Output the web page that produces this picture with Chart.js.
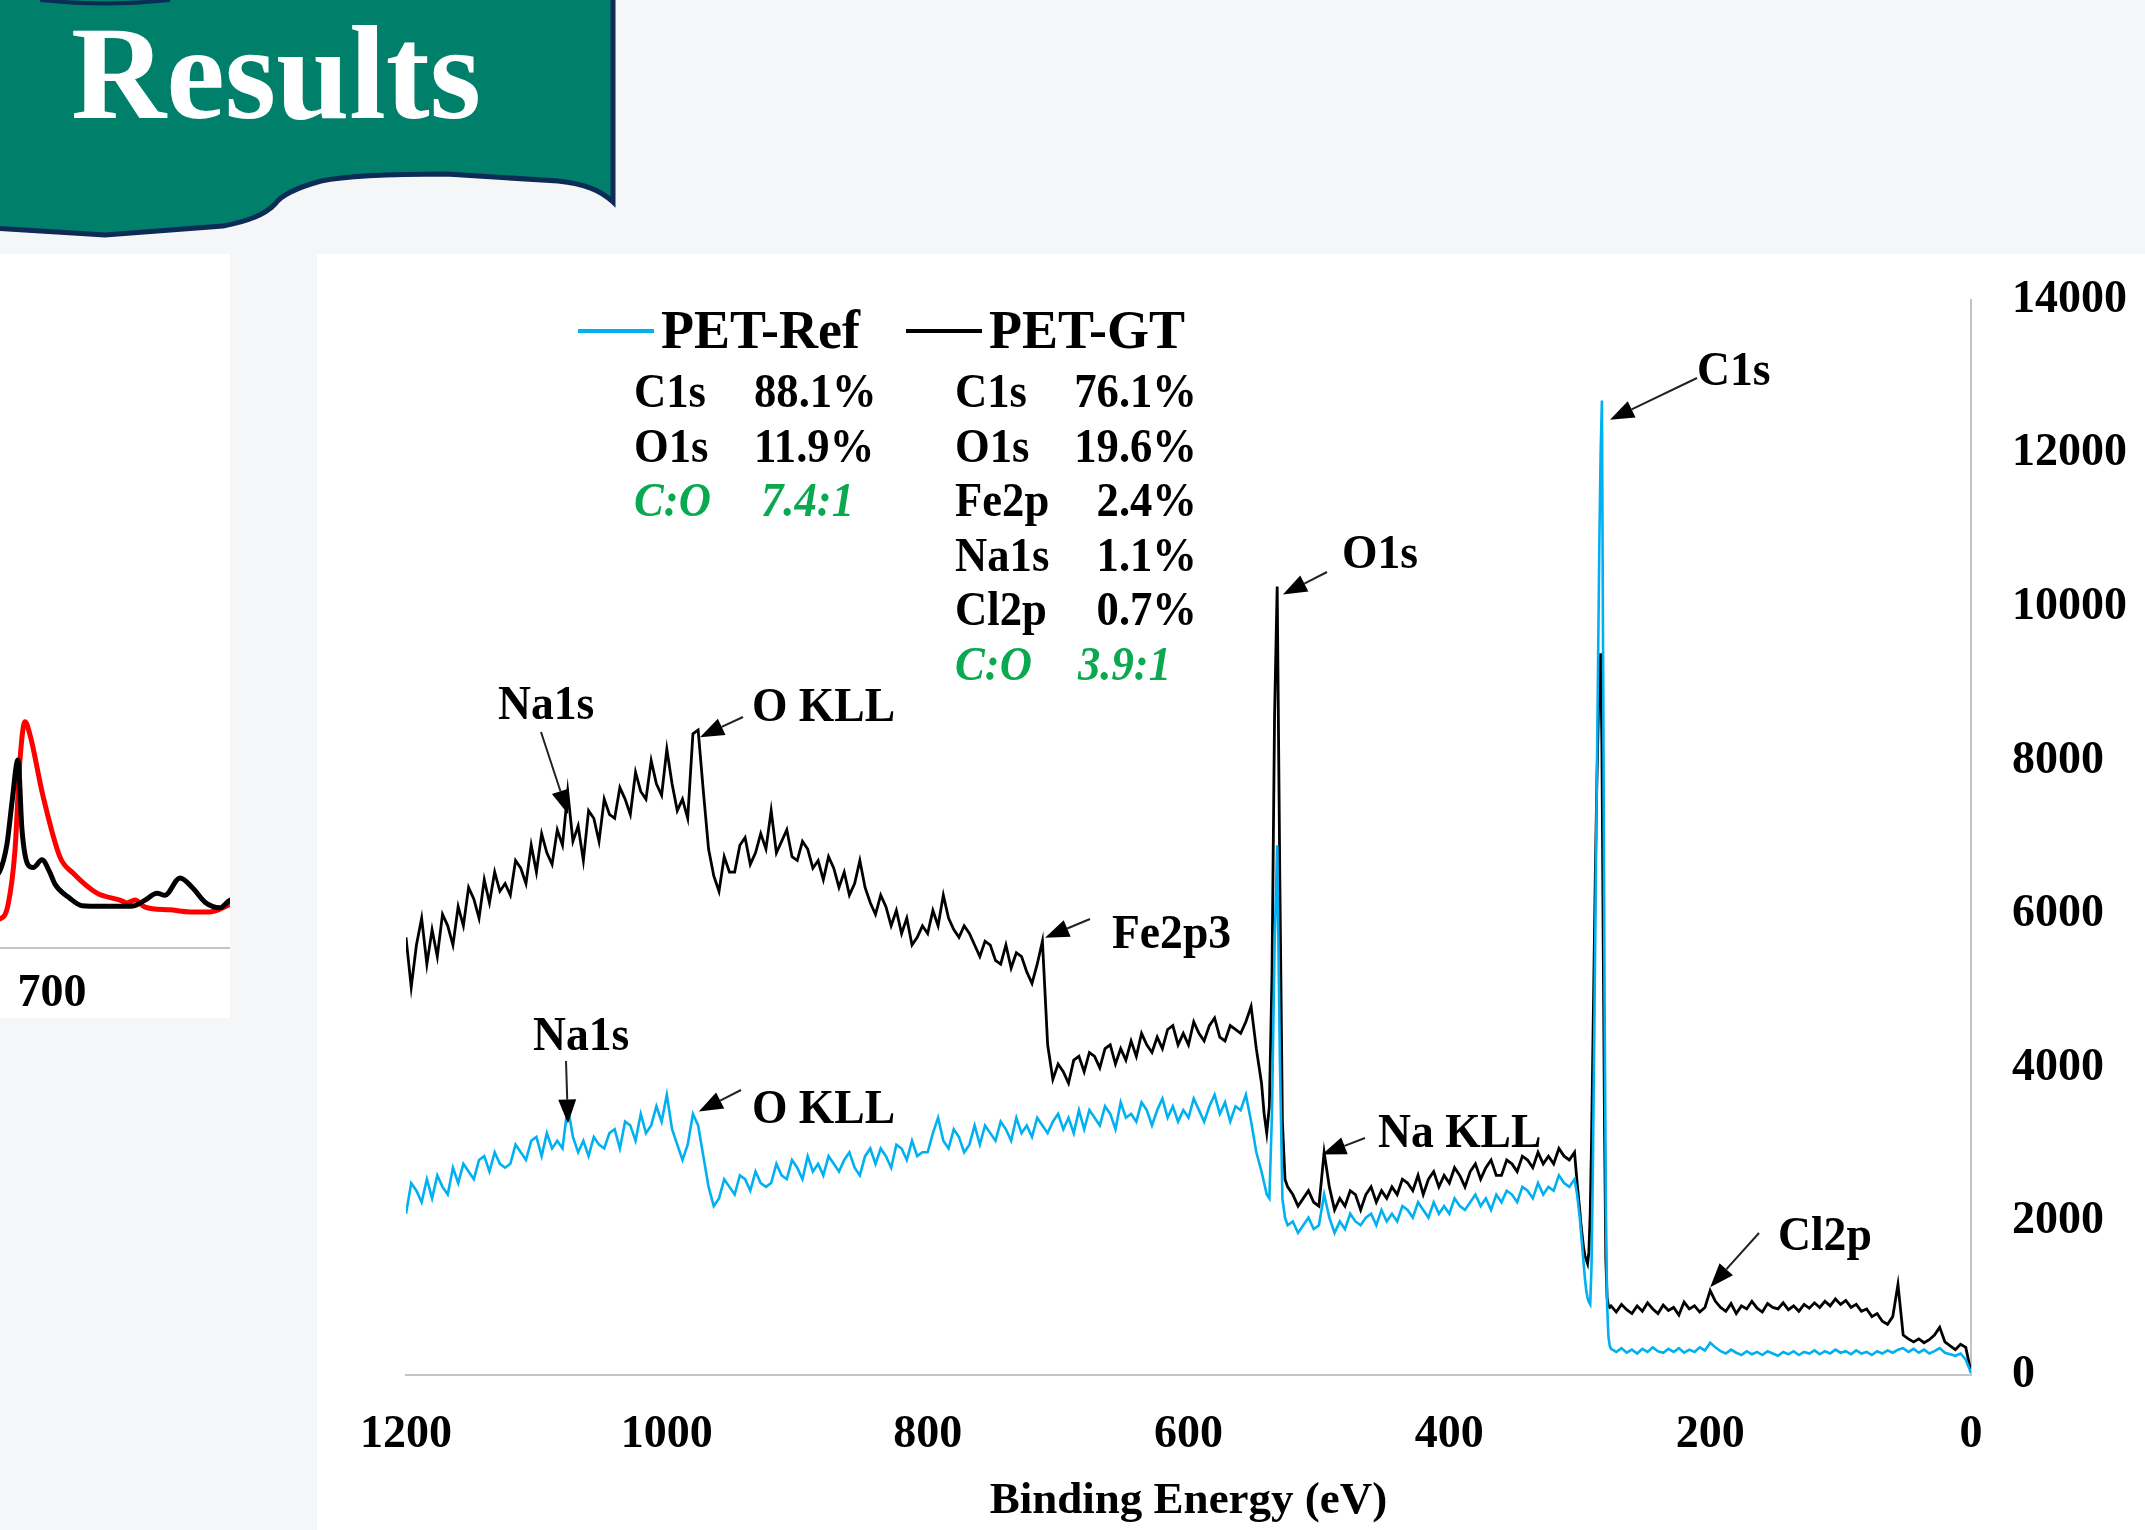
<!DOCTYPE html>
<html><head><meta charset="utf-8">
<script src="https://cdn.jsdelivr.net/npm/chart.js@4.4.0/dist/chart.umd.min.js"></script>
<style>
html,body{margin:0;padding:0;background:#f5f6f8;width:2145px;height:1530px;overflow:hidden;}
#banner{position:absolute;left:0;top:0;}
#leftPanel{position:absolute;left:0;top:254px;width:230px;height:764px;background:#fff;overflow:hidden;}
#leftWrap{position:absolute;left:-248px;top:0;width:600px;height:764px;}
#mainPanel{position:absolute;left:317px;top:254px;width:1828px;height:1276px;background:#fff;}
#mainWrap{position:absolute;left:0;top:0;width:1828px;height:1276px;}
</style></head>
<body>
<svg id="banner" width="640" height="250">
 <path d="M-10,-20 L613,-20 L613,202 C600,190 585,184 558,181 L446,174 C400,174 345,176 321,181 C292,189 280,197 275,204 C264,216 245,222 223,226 L105,235 L-10,228 Z" fill="#007f6a" stroke="#0d2b57" stroke-width="5"/>
 <path d="M40,0 Q105,7 170,0" stroke="#0d2b57" stroke-width="4" fill="none"/>
 <text x="71" y="118" font-family="Liberation Serif, Times New Roman, serif" font-weight="bold" font-size="133" fill="#ffffff" textLength="410" lengthAdjust="spacingAndGlyphs">Results</text>
</svg>
<div id="leftPanel"><div id="leftWrap"><canvas id="leftChart"></canvas></div></div>
<div id="mainPanel"><div id="mainWrap"><canvas id="mainChart"></canvas></div></div>
<script>
// ---------------- DATA ----------------
// Binding energy (eV) sampling points for survey spectra
const energy = [
1200,1196,1192,1188,1184,1180,1176,1172,1168,1164,
1160,1156,1152,1148,1144,1140,1136,1132,1128,1124,
1120,1116,1112,1108,1104,1100,1096,1092,1088,1084,
1080,1076,1072,1068,1064,1060,1056,1052,1048,1044,
1040,1036,1032,1028,1024,1020,1016,1012,1008,1004,
1000,996,992,988,984,980,976,972,968,964,
960,956,952,948,944,940,936,932,928,924,
920,916,912,908,904,900,896,892,888,884,
880,876,872,868,864,860,856,852,848,844,
840,836,832,828,824,820,816,812,808,804,
800,796,792,788,784,780,776,772,768,764,
760,756,752,748,744,740,736,732,728,724,
720,716,712,708,704,700,696,692,688,684,
680,676,672,668,664,660,656,652,648,644,
640,636,632,628,624,620,616,612,608,604,
600,596,592,588,584,580,576,572,568,564,
560,556,552,548,544,
542,540,538,536,534,532,530,528,526,524,
520,516,512,508,504,500,496,492,488,484,
480,476,472,468,464,460,456,452,448,444,
440,436,432,428,424,420,416,412,408,404,
400,396,392,388,384,380,376,372,368,364,
360,356,352,348,344,340,336,332,328,324,
320,316,312,308,304,
302,300,299,298,297,296,295,294,293,292,
291,290,289,288,287,286,285,284,283,282,
281,280,279,278,277,
276,272,268,264,260,256,252,248,244,240,
236,232,228,224,220,216,212,208,204,200,
196,192,188,184,180,176,172,168,164,160,
156,152,148,144,140,136,132,128,124,120,
116,112,108,104,100,96,92,88,84,80,
76,72,68,64,60,56,52,48,44,40,
36,32,28,24,20,16,12,8,4,0
];
// PET-Ref counts
const petRef = [
2100,2500,2400,2250,2550,2300,2600,2450,2350,2700,
2500,2750,2650,2550,2800,2850,2650,2900,2750,2700,
2750,3000,2900,2800,3050,3100,2850,3150,2950,3050,
2950,3500,3100,2900,3050,2850,3100,3000,2950,3150,
3200,2950,3300,3250,3050,3400,3150,3250,3500,3300,
3650,3200,3000,2800,3000,3400,3250,2850,2450,2200,
2300,2550,2450,2350,2600,2550,2400,2650,2500,2450,
2500,2750,2600,2550,2800,2700,2550,2850,2650,2750,
2600,2850,2750,2650,2800,2900,2700,2600,2850,2950,
2750,2950,2850,2700,3000,2950,2800,3050,2850,2900,
2900,3150,3350,3050,2950,3200,3100,2900,3000,3250,
3000,3250,3150,3050,3300,3200,3050,3350,3150,3250,
3100,3350,3250,3150,3300,3400,3200,3350,3150,3450,
3200,3450,3350,3250,3500,3400,3200,3550,3350,3400,
3300,3550,3450,3250,3450,3600,3350,3500,3300,3450,
3350,3600,3450,3300,3500,3650,3400,3550,3300,3500,
3450,3650,3300,2900,2650,
2500,2350,2300,3400,5600,6900,4200,2300,2050,1950,
2000,1850,1950,2050,1900,1950,2350,2050,1850,2000,
1900,2100,2000,1950,2050,2100,1950,2150,2000,2100,
2000,2200,2150,2050,2250,2150,2050,2250,2100,2200,
2100,2300,2200,2150,2250,2350,2200,2300,2150,2350,
2250,2400,2350,2250,2450,2400,2300,2500,2350,2450,
2400,2600,2500,2450,2550,
2350,2050,1850,1650,1450,1250,1100,1000,950,920,
1400,2600,4200,5900,7600,9200,10800,12000,12690,9000,
5000,2200,900,500,380,
340,300,350,290,330,280,340,300,360,310,
290,340,300,350,290,330,300,360,320,420,
360,310,280,330,290,260,310,270,300,260,
310,280,250,300,270,310,260,300,280,320,
270,310,280,330,290,310,270,320,280,300,
260,310,280,320,290,330,350,300,340,290,
330,280,310,350,290,270,250,280,200,30
];
// PET-GT counts
const petGT = [
5700,5050,5600,5950,5350,5800,5450,6000,5850,5600,
6100,5850,6350,6200,5950,6450,6150,6550,6300,6400,
6250,6700,6600,6400,6900,6550,7050,6800,6650,7100,
6900,7600,6950,7150,6700,7350,7250,6950,7500,7300,
7250,7650,7500,7300,7850,7600,7500,8000,7700,7550,
8150,7700,7350,7500,7250,8350,8400,7600,6850,6500,
6300,6750,6550,6550,6900,7000,6650,6800,7050,6850,
7350,6800,6950,7100,6750,6700,6950,6850,6600,6700,
6450,6750,6600,6350,6550,6250,6400,6700,6350,6150,
6000,6250,6100,5850,6050,5750,5950,5600,5700,5850,
5750,6050,5850,6250,5950,5800,5700,5850,5750,5600,
5450,5650,5600,5400,5350,5600,5300,5500,5450,5250,
5100,5350,5650,4300,3850,4050,3950,3800,4100,4150,
3950,4200,4150,4000,4250,4300,4050,4250,4100,4350,
4150,4450,4300,4200,4400,4250,4500,4550,4300,4450,
4300,4600,4450,4350,4550,4650,4400,4350,4550,4500,
4450,4600,4800,4250,3800,
3400,3150,3500,5200,8600,10270,6500,3300,2550,2450,
2350,2200,2300,2400,2250,2200,2900,2450,2150,2300,
2200,2400,2350,2150,2350,2450,2250,2400,2300,2450,
2350,2550,2500,2400,2600,2350,2550,2650,2450,2600,
2500,2700,2600,2450,2650,2750,2550,2700,2800,2600,
2600,2800,2750,2650,2850,2800,2700,2900,2750,2850,
2750,2950,2850,2800,2900,
2500,2150,1950,1800,1650,1550,1500,1450,1600,2100,
3000,4200,5400,6600,7600,8400,9100,9400,8200,5600,
3200,1500,1000,900,880,
900,820,920,850,800,900,830,940,860,800,
910,840,880,780,950,860,900,820,880,1100,
960,880,830,930,800,900,860,960,870,820,
930,880,860,940,850,900,830,920,870,940,
880,960,900,990,920,970,880,920,830,860,
760,800,700,660,760,1180,520,470,430,470,
420,460,520,620,430,380,330,400,360,40
];
const seriesNames = ['PET-Ref', 'PET-GT'];
const xTickValues = [1200, 1000, 800, 600, 400, 200, 0];
const yTickValues = [0, 2000, 4000, 6000, 8000, 10000, 12000, 14000];
const xAxisTitle = 'Binding Energy (eV)';

// surface composition table
const refRows = ['C1s', 'O1s'];
const refPercent = ['88.1%', '11.9%'];
const refRatio = '7.4:1';
const gtRows = ['C1s', 'O1s', 'Fe2p', 'Na1s', 'Cl2p'];
const gtPercent = ['76.1%', '19.6%', '2.4%', '1.1%', '0.7%'];
const gtRatio = '3.9:1';
const ratioLabel = 'C:O';

// peak annotations: label, energy (eV) and counts the arrow points at
const peakNames  = ['C1s', 'O1s', 'Na1s', 'O KLL', 'Fe2p3', 'Na1s', 'O KLL', 'Na KLL', 'Cl2p'];
const peakEnergy = [276.8, 527.6, 1075.8, 974.6, 710, 1075.8, 975.5, 497.6, 200];
const peakCounts = [12441, 10166, 7306, 8307, 5694, 3276, 3432, 2873, 1144];

// partial neighbouring spectrum (cropped at left edge)
const leftEnergyA = [706,705,704.2,703.6,703.2,702.72,702.4,701.92,701.5,700.8,700.2,699.76,698.6,697.6,696,694.5,693.5,692.56,691.6,690.96,689.76,688.72,687.76,686.56,685.84,684.96,684];
const leftSeriesA = [9,10,11,15,21,27.1,17,12,11.6,12.7,11,9.2,7.2,6.1,6.0,6.0,6.05,6.9,7.9,7.6,10.1,8.6,6.6,5.8,6.8,7.6,8];
const leftEnergyB = [705.76,704.16,703.52,702.96,702.56,702.16,701.76,700.72,699.36,698.32,696.4,694.56,694,693.36,692.56,690.56,688.96,687.36,685.84,684.96];
const leftSeriesB = [3.7,4.2,6.2,14.1,27.1,32.6,30.7,21.9,13.1,10.8,7.9,6.9,6.5,6.9,5.9,5.5,5.2,5.2,6.2,6.9];
const leftTickValues = [700];

// ---------------- LAYOUT (canvas px of main chart) ----------------
const SERIF = "'Liberation Serif','Times New Roman',serif";
const legendLayout = [{x1:261, x2:337, y:77, tx:344, base:94}, {x1:589, x2:665, y:77, tx:672, base:94}];
const rowBase = [153, 207.5, 262, 316.5, 371, 425.5];
const refLabelX = 317, refValueX = 437, refRatioX = 444;
const gtLabelX = 638, gtValueRight = 880, gtRatioX = 761;
const peakLayout = [
  {tx:1380, ty:131, ax:1380, ay:124},
  {tx:1025, ty:314, ax:1010, ay:318},
  {tx:181,  ty:465, ax:224,  ay:478},
  {tx:435,  ty:467, ax:426,  ay:463},
  {tx:795,  ty:694, ax:773,  ay:665},
  {tx:216,  ty:796, ax:249,  ay:807},
  {tx:435,  ty:869, ax:424,  ay:836},
  {tx:1061, ty:893, ax:1048, ay:884},
  {tx:1461, ty:996, ax:1442, ay:979}
];

function drawText(ctx, s, x, y, font, color, align, sx) {
  ctx.save();
  ctx.font = font; ctx.fillStyle = color; ctx.textAlign = align || 'left'; ctx.textBaseline = 'alphabetic';
  ctx.translate(x, y); ctx.scale(sx || 1, 1);
  ctx.fillText(s, 0, 0);
  ctx.restore();
}
function drawArrow(ctx, x1, y1, x2, y2) {
  const a = Math.atan2(y2 - y1, x2 - x1);
  const hl = 24, hw = 9;
  const bx = x2 - hl * Math.cos(a), by = y2 - hl * Math.sin(a);
  ctx.save();
  ctx.strokeStyle = '#222'; ctx.lineWidth = 2;
  ctx.beginPath(); ctx.moveTo(x1, y1); ctx.lineTo(bx, by); ctx.stroke();
  ctx.fillStyle = '#000';
  ctx.beginPath(); ctx.moveTo(x2, y2);
  ctx.lineTo(bx + hw * Math.sin(a), by - hw * Math.cos(a));
  ctx.lineTo(bx - hw * Math.sin(a), by + hw * Math.cos(a));
  ctx.closePath(); ctx.fill();
  ctx.restore();
}

const annotatePlugin = {
  id: 'annotate',
  afterDraw(chart) {
    const ctx = chart.ctx, xs = chart.scales.x, ys = chart.scales.y;
    const labFont = 'bold 48px ' + SERIF;
    const green = '#0aa84f';
    const greenFont = 'italic bold 48px ' + SERIF;
    // legend
    chart.data.datasets.forEach((ds, i) => {
      const L = legendLayout[i];
      ctx.save(); ctx.strokeStyle = ds.borderColor; ctx.lineWidth = 4;
      ctx.beginPath(); ctx.moveTo(L.x1, L.y); ctx.lineTo(L.x2, L.y); ctx.stroke(); ctx.restore();
      drawText(ctx, ds.label, L.tx, L.base, 'bold 54px ' + SERIF, '#000', 'left', 1);
    });
    // composition table
    refRows.forEach((r, i) => {
      drawText(ctx, r, refLabelX, rowBase[i], labFont, '#000', 'left', 0.93);
      drawText(ctx, refPercent[i], refValueX, rowBase[i], labFont, '#000', 'left', 0.93);
    });
    drawText(ctx, ratioLabel, refLabelX, rowBase[refRows.length], greenFont, green, 'left', 0.93);
    drawText(ctx, refRatio, refRatioX, rowBase[refRows.length], greenFont, green, 'left', 0.93);
    gtRows.forEach((r, i) => {
      drawText(ctx, r, gtLabelX, rowBase[i], labFont, '#000', 'left', 0.93);
      drawText(ctx, gtPercent[i], gtValueRight, rowBase[i], labFont, '#000', 'right', 0.93);
    });
    drawText(ctx, ratioLabel, gtLabelX, rowBase[gtRows.length], greenFont, green, 'left', 0.93);
    drawText(ctx, gtRatio, gtRatioX, rowBase[gtRows.length], greenFont, green, 'left', 0.93);
    // peak labels + arrows
    peakNames.forEach((n, i) => {
      const P = peakLayout[i];
      drawText(ctx, n, P.tx, P.ty, labFont, '#000', 'left', 0.95);
      drawArrow(ctx, P.ax, P.ay, xs.getPixelForValue(peakEnergy[i]), ys.getPixelForValue(peakCounts[i]));
    });
  }
};

Chart.defaults.font.family = SERIF;

new Chart(document.getElementById('mainChart'), {
  type: 'line',
  data: {
    datasets: [
      { label: seriesNames[0], data: energy.map((e, i) => ({x: e, y: petRef[i]})), borderColor: '#00b0f0', borderWidth: 2.6, pointRadius: 0, tension: 0, fill: false },
      { label: seriesNames[1], data: energy.map((e, i) => ({x: e, y: petGT[i]})), borderColor: '#000000', borderWidth: 2.8, pointRadius: 0, tension: 0, fill: false }
    ]
  },
  options: {
    responsive: true, maintainAspectRatio: false, animation: false,
    layout: { padding: { left: 89, top: 46, right: 0, bottom: 0 } },
    plugins: { legend: { display: false }, tooltip: { enabled: false } },
    scales: {
      x: {
        type: 'linear', reverse: true, min: 0, max: 1200,
        afterBuildTicks: s => { s.ticks = xTickValues.map(v => ({value: v})); },
        afterFit: s => { s.height = 155; },
        ticks: { font: { family: SERIF, weight: 'bold', size: 46 }, color: '#000', padding: 25, maxRotation: 0, autoSkip: false, callback: v => String(v) },
        grid: { display: false },
        border: { display: true, color: '#c4c4c4', width: 2 },
        title: { display: true, text: xAxisTitle, color: '#000', font: { family: SERIF, weight: 'bold', size: 45 }, padding: { top: 0, bottom: 2 } }
      },
      y: {
        type: 'linear', position: 'right', min: 0, max: 14000,
        afterBuildTicks: s => { s.ticks = yTickValues.map(v => ({value: v})); },
        afterFit: s => { s.width = 174; s.paddingTop = 0; s.paddingBottom = 0; },
        ticks: { font: { family: SERIF, weight: 'bold', size: 46 }, color: '#000', padding: 33, callback: v => String(v) },
        grid: { display: false },
        border: { display: true, color: '#c4c4c4', width: 2 }
      }
    }
  },
  plugins: [annotatePlugin]
});

new Chart(document.getElementById('leftChart'), {
  type: 'line',
  data: {
    datasets: [
      { label: 'A', data: leftEnergyA.map((e, i) => ({x: e, y: leftSeriesA[i]})), borderColor: '#000000', borderWidth: 5, pointRadius: 0, cubicInterpolationMode: 'monotone', fill: false },
      { label: 'B', data: leftEnergyB.map((e, i) => ({x: e, y: leftSeriesB[i]})), borderColor: '#ff0000', borderWidth: 5, pointRadius: 0, cubicInterpolationMode: 'monotone', fill: false }
    ]
  },
  options: {
    responsive: true, maintainAspectRatio: false, animation: false,
    layout: { padding: 0 },
    plugins: { legend: { display: false }, tooltip: { enabled: false } },
    scales: {
      x: {
        type: 'linear', reverse: true, min: 676, max: 724,
        afterBuildTicks: s => { s.ticks = leftTickValues.map(v => ({value: v})); },
        afterFit: s => { s.height = 70; },
        ticks: { font: { family: SERIF, weight: 'bold', size: 46 }, color: '#000', padding: 11, maxRotation: 0, callback: v => String(v) },
        grid: { display: false },
        border: { display: true, color: '#c4c4c4', width: 2 }
      },
      y: { display: false, min: 0, max: 100 }
    }
  }
});
</script>
</body></html>
